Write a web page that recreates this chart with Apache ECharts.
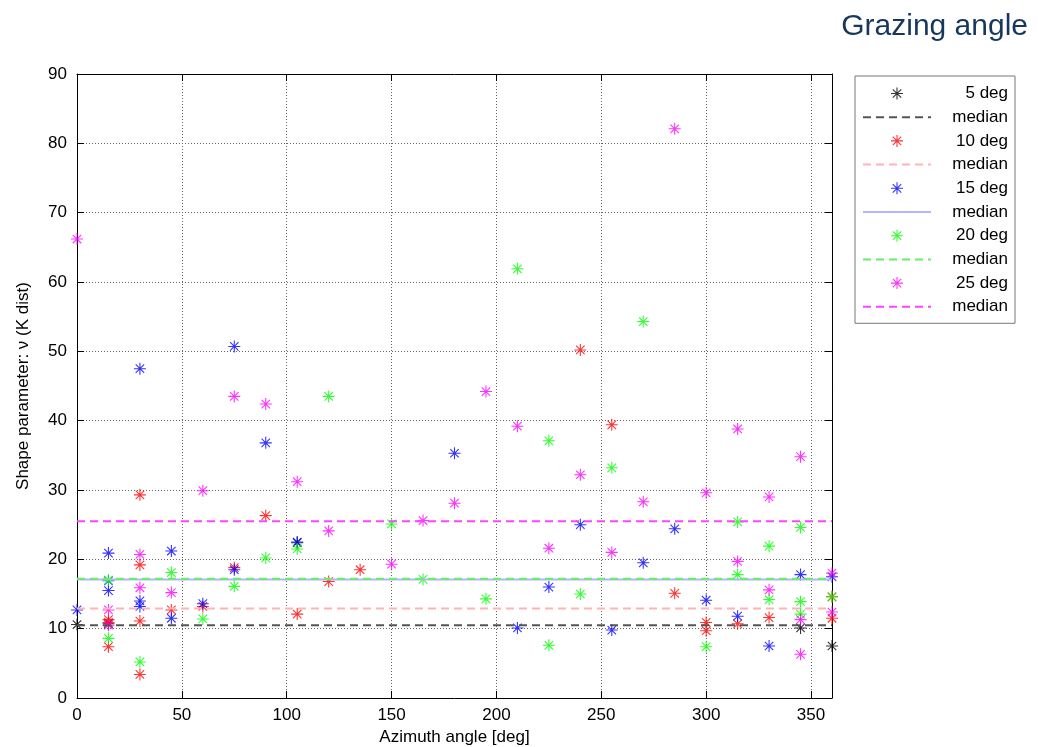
<!DOCTYPE html>
<html>
<head>
<meta charset="utf-8">
<title>Shape parameter vs azimuth</title>
<script src="https://cdn.jsdelivr.net/npm/echarts@6/dist/echarts.min.js"></script>
<style>
  html, body { margin: 0; padding: 0; background: #fff; }
  #chart { width: 1038px; height: 747px; }
</style>
</head>
<body>
<div id="chart"></div>
<script>
// Shape parameter (K distribution) per azimuth angle, one array per grazing angle: [azimuth deg, nu]
const deg5 = [[0, 10.6], [15, 10.7], [105, 22.4], [345, 10.1], [360, 7.5]];
const deg10 = [[15, 11.3], [15, 10.9], [15, 7.4], [30, 29.3], [30, 19.2], [30, 11.1], [30, 3.4],
  [45, 12.7], [60, 13.2], [75, 18.8], [90, 26.3], [105, 12.1], [120, 16.8], [135, 18.5],
  [240, 50.2], [255, 39.4], [285, 15.1], [300, 10.9], [300, 9.7], [315, 10.7], [330, 11.6],
  [360, 14.6], [360, 11.5]];
const deg15 = [[0, 12.7], [15, 20.9], [15, 16.9], [15, 15.5], [30, 47.5], [30, 14.0], [30, 13.2],
  [45, 21.2], [45, 11.5], [60, 13.6], [75, 50.7], [75, 18.5], [90, 36.8], [105, 22.5], [180, 35.3],
  [210, 10.1], [225, 16.0], [240, 25.0], [255, 9.8], [270, 19.5], [285, 24.4], [300, 14.1],
  [315, 11.8], [330, 7.5], [345, 17.8], [360, 17.5]];
const deg20 = [[15, 17.0], [15, 8.6], [30, 5.2], [45, 18.1], [60, 11.4], [75, 16.1], [90, 20.2],
  [105, 21.5], [120, 43.5], [150, 25.1], [165, 17.1], [195, 14.3], [210, 61.9], [225, 37.1],
  [225, 7.6], [240, 15.0], [255, 33.2], [270, 54.3], [300, 7.4], [315, 25.4], [315, 17.8],
  [330, 21.9], [330, 14.2], [345, 24.6], [345, 13.9], [345, 12.1], [360, 14.6]];
const deg25 = [[0, 66.2], [15, 12.7], [15, 10.5], [30, 20.7], [30, 15.9], [45, 15.2], [60, 29.9],
  [75, 43.5], [90, 42.4], [105, 31.2], [120, 24.1], [150, 19.3], [165, 25.6], [180, 28.1],
  [195, 44.2], [210, 39.2], [225, 21.6], [240, 32.2], [255, 21.0], [270, 28.3], [285, 82.1],
  [300, 29.6], [315, 38.8], [315, 19.7], [330, 29.0], [330, 15.6], [345, 34.8], [345, 11.3],
  [345, 6.3], [360, 18.0], [360, 12.4]];

// Median of each grazing angle, drawn across the full azimuth range
const medians = [10.5, 12.9, 17.1, 17.2, 25.5];
const seriesNames = ['5 deg', '10 deg', '15 deg', '20 deg', '25 deg'];
const azimuthRange = [0, 360];
const azimuthTicks = [0, 50, 100, 150, 200, 250, 300, 350];

const groups = [deg5, deg10, deg15, deg20, deg25];
const markerColors = ['#000000', '#ff0000', '#0000ff', '#00ff00', '#ff00ff'];
const medianStyles = [
  { color: '#555555', type: [8, 5] },
  { color: '#ffb3b3', type: [8, 5] },
  { color: '#b3b3ff', type: 'solid' },
  { color: '#66ee66', type: [8, 5] },
  { color: '#ff44ff', type: [8, 5] }
];

// Asterisk marker: a plus and a cross made from thin bars
const ASTERISK = 'path://M9.1,0L10.9,0L10.9,20L9.1,20Z' +
  'M0,9.1L20,9.1L20,10.9L0,10.9Z' +
  'M3.57,2.30L17.70,16.43L16.43,17.70L2.30,3.57Z' +
  'M17.70,3.57L3.57,17.70L2.30,16.43L16.43,2.30Z';

const FONT = 'Liberation Sans, Arial, sans-serif';

const series = [];
const legendData = [];
groups.forEach(function (pts, i) {
  series.push({
    name: seriesNames[i],
    type: 'scatter',
    xAxisIndex: 0, yAxisIndex: 0,
    symbol: ASTERISK,
    symbolSize: 12,
    itemStyle: { color: markerColors[i] },
    emphasis: { disabled: true },
    data: pts
  });
  const mName = 'median' + i;
  series.push({
    name: mName,
    type: 'line',
    xAxisIndex: 0, yAxisIndex: 0,
    symbol: 'none',
    silent: true,
    lineStyle: { color: medianStyles[i].color, type: medianStyles[i].type, width: 2 },
    itemStyle: { color: medianStyles[i].color },
    data: azimuthRange.map(function (a) { return [a, medians[i]]; })
  });
  legendData.push({ name: seriesNames[i], icon: ASTERISK });
  legendData.push({ name: mName, itemStyle: { opacity: 0 } });
});

const gridLine = { show: true, lineStyle: { color: '#666', type: [1, 2], width: 1 } };
const frameLine = { show: true, onZero: false, lineStyle: { color: '#000', width: 1 } };
const inTicks = { show: true, inside: true, length: 7, lineStyle: { color: '#000' } };
const xTicks = Object.assign({ customValues: azimuthTicks }, inTicks);
const labelStyle = { color: '#000', fontSize: 17, fontFamily: FONT };

const chart = echarts.init(document.getElementById('chart'), null, { renderer: 'canvas' });
chart.setOption({
  animation: false,
  backgroundColor: '#ffffff',
  title: {
    text: 'Grazing angle',
    right: 5, top: 7,
    textStyle: { color: '#17375e', fontSize: 30, fontWeight: 'normal', fontFamily: FONT }
  },
  grid: { left: 77, right: 206, top: 74, bottom: 49, containLabel: false, outerBoundsMode: 'none' },
  legend: {
    orient: 'vertical',
    left: 855, top: 76,
    padding: [9, 7, 8, 7],
    itemWidth: 68, itemHeight: 12, itemGap: 6.7,
    backgroundColor: '#ffffff',
    borderColor: '#777', borderWidth: 1, borderRadius: 0,
    selectedMode: false,
    data: legendData,
    formatter: function (name) { return '{t|' + (name.indexOf('median') === 0 ? 'median' : name) + '}'; },
    textStyle: {
      color: '#000', fontSize: 17, fontFamily: FONT,
      rich: { t: { width: 72, align: 'right', fontSize: 17, lineHeight: 17, fontFamily: FONT, color: '#000' } }
    }
  },
  xAxis: [{
    type: 'value', position: 'bottom',
    min: 0, max: 360, interval: 50,
    name: 'Azimuth angle [deg]', nameLocation: 'middle', nameGap: 31,
    nameTextStyle: { color: '#000', fontSize: 17, fontFamily: FONT },
    axisLine: frameLine, axisTick: xTicks,
    axisLabel: Object.assign({ margin: 9, customValues: azimuthTicks }, labelStyle),
    splitLine: gridLine
  }, {
    type: 'value', position: 'top',
    min: 0, max: 360, interval: 50,
    axisLine: frameLine, axisTick: xTicks,
    axisLabel: { show: false }, splitLine: { show: false }
  }],
  yAxis: [{
    type: 'value', position: 'left',
    min: 0, max: 90, interval: 10,
    name: 'Shape parameter: ν (K dist)', nameLocation: 'middle', nameGap: 45,
    nameTextStyle: { color: '#000', fontSize: 17, fontFamily: FONT },
    axisLine: frameLine, axisTick: inTicks,
    axisLabel: Object.assign({ margin: 10 }, labelStyle),
    splitLine: gridLine
  }, {
    type: 'value', position: 'right',
    min: 0, max: 90, interval: 10,
    axisLine: frameLine, axisTick: inTicks,
    axisLabel: { show: false }, splitLine: { show: false }
  }],
  series: series
});
</script>
</body>
</html>
